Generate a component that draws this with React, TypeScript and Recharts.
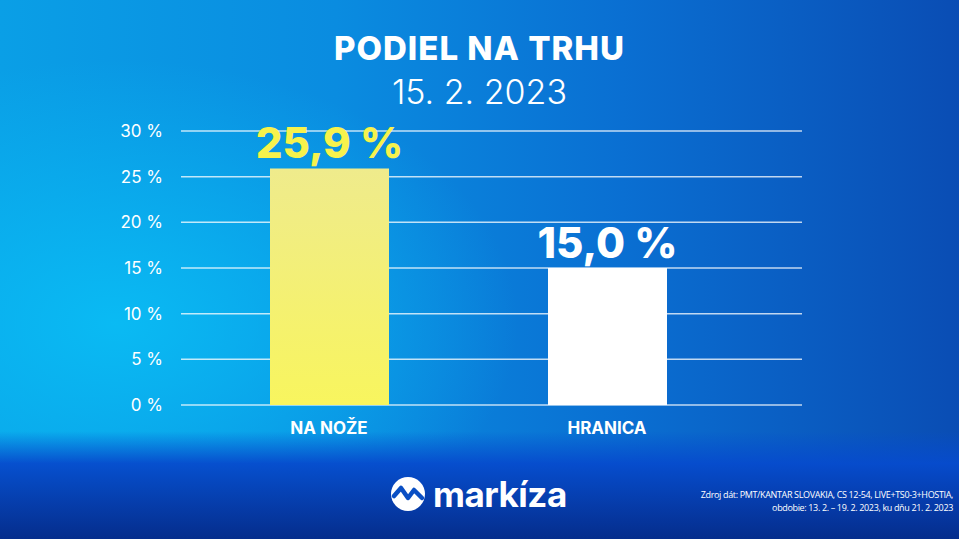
import React from 'react';
import {
  BarChart,
  Bar,
  XAxis,
  YAxis,
  CartesianGrid,
  LabelList,
  Cell,
} from 'recharts';

// Market share on 15. 2. 2023
const programmes = ['NA NOŽE', 'HRANICA'];
const shares = [25.9, 15.0];
const shareLabels = ['25,9 %', '15,0 %'];
const yTicks = [0, 5, 10, 15, 20, 25, 30];

const barFills = ['url(#yellowBar)', '#ffffff'];
const labelColors = ['#f7f24c', '#ffffff'];

const FONT = 'Inter, "Noto Sans", sans-serif';

const chartData = programmes.map((name, i) => ({
  name,
  value: shares[i],
  label: shareLabels[i],
}));

const ValueLabel = (props: any) => {
  const { x, y, width, index } = props;
  return (
    <text
      x={x + width / 2}
      y={y - 10}
      textAnchor="middle"
      fill={labelColors[index]}
      fontFamily={FONT}
      fontWeight={800}
      fontSize={42}
    >
      {shareLabels[index]}
    </text>
  );
};

const App: React.FC = () => {
  return (
    <div
      style={{
        position: 'fixed',
        left: 0,
        top: 0,
        width: 959,
        height: 539,
        overflow: 'hidden',
        fontFamily: FONT,
        color: '#fff',
        background:
          'linear-gradient(180deg, rgba(6,60,190,0) 0%, rgba(6,60,190,0) 80%, rgba(6,75,205,0.95) 86%, #052d8c 100%), ' +
          'radial-gradient(ellipse 60% 70% at 12% 60%, rgba(10,190,245,0.9) 0%, rgba(10,160,235,0) 70%), ' +
          'linear-gradient(90deg, #0a9fe6 0%, #0a8ce0 35%, #0a6fd2 65%, #0a4db4 100%)',
      }}
    >
      <div
        style={{
          position: 'absolute',
          top: 29,
          width: '100%',
          textAlign: 'center',
          fontWeight: 800,
          fontSize: 33,
          letterSpacing: 1,
          lineHeight: '38px',
        }}
      >
        PODIEL NA TRHU
      </div>
      <div
        style={{
          position: 'absolute',
          top: 72,
          width: '100%',
          textAlign: 'center',
          fontWeight: 300,
          fontSize: 34,
          lineHeight: '40px',
        }}
      >
        15. 2. 2023
      </div>

      <div style={{ position: 'absolute', left: 0, top: 0 }}>
        <BarChart
          width={959}
          height={539}
          data={chartData}
          margin={{ top: 131, right: 157, bottom: 104, left: 121 }}
        >
          <defs>
            <linearGradient id="yellowBar" x1="0" y1="0" x2="0" y2="1">
              <stop offset="0%" stopColor="#efeb8c" />
              <stop offset="100%" stopColor="#f8f55e" />
            </linearGradient>
          </defs>
          <CartesianGrid
            horizontal
            vertical={false}
            stroke="rgba(255,255,255,0.75)"
            strokeWidth={1.5}
          />
          <XAxis
            dataKey="name"
            height={30}
            axisLine={false}
            tickLine={false}
            tickSize={0}
            tickMargin={17}
            padding={{ left: 9, right: 56 }}
            tick={{ fill: '#ffffff', fontSize: 17, fontWeight: 700, fontFamily: FONT }}
          />
          <YAxis
            width={60}
            domain={[0, 30]}
            ticks={yTicks}
            axisLine={false}
            tickLine={false}
            tickSize={0}
            tickMargin={18}
            tickFormatter={(v: number) => `${v} %`}
            tick={{ fill: '#ffffff', fontSize: 17, fontWeight: 400, fontFamily: FONT }}
          />
          <Bar dataKey="value" barSize={119} isAnimationActive={false}>
            {chartData.map((_, i) => (
              <Cell key={`c-${i}`} fill={barFills[i]} />
            ))}
            <LabelList dataKey="label" content={<ValueLabel />} />
          </Bar>
        </BarChart>
      </div>

      {/* markíza logo */}
      <div
        style={{
          position: 'absolute',
          left: 390,
          top: 474,
          display: 'flex',
          alignItems: 'center',
          gap: 7,
        }}
      >
        <svg width={36} height={36} viewBox="0 0 36 36">
          <circle cx={18} cy={18} r={17} fill="#ffffff" />
          <path
            d="M4 20 L11 12 L18 22 L24 14 L32 22"
            fill="none"
            stroke="#0a4fc4"
            strokeWidth={4.5}
            strokeLinejoin="round"
            strokeLinecap="round"
          />
        </svg>
        <span style={{ fontSize: 35, fontWeight: 700, letterSpacing: -0.5, lineHeight: '40px' }}>
          markíza
        </span>
      </div>

      <div
        style={{
          position: 'absolute',
          right: 6,
          top: 488,
          textAlign: 'right',
          fontSize: 9,
          lineHeight: '13px',
          fontFamily: '"Open Sans", sans-serif',
          letterSpacing: -0.35,
        }}
      >
        Zdroj dát: PMT/KANTAR SLOVAKIA, CS 12-54, LIVE+TS0-3+HOSTIA,
        <br />
        obdobie: 13. 2. – 19. 2. 2023, ku dňu 21. 2. 2023
      </div>
    </div>
  );
};

export default App;
